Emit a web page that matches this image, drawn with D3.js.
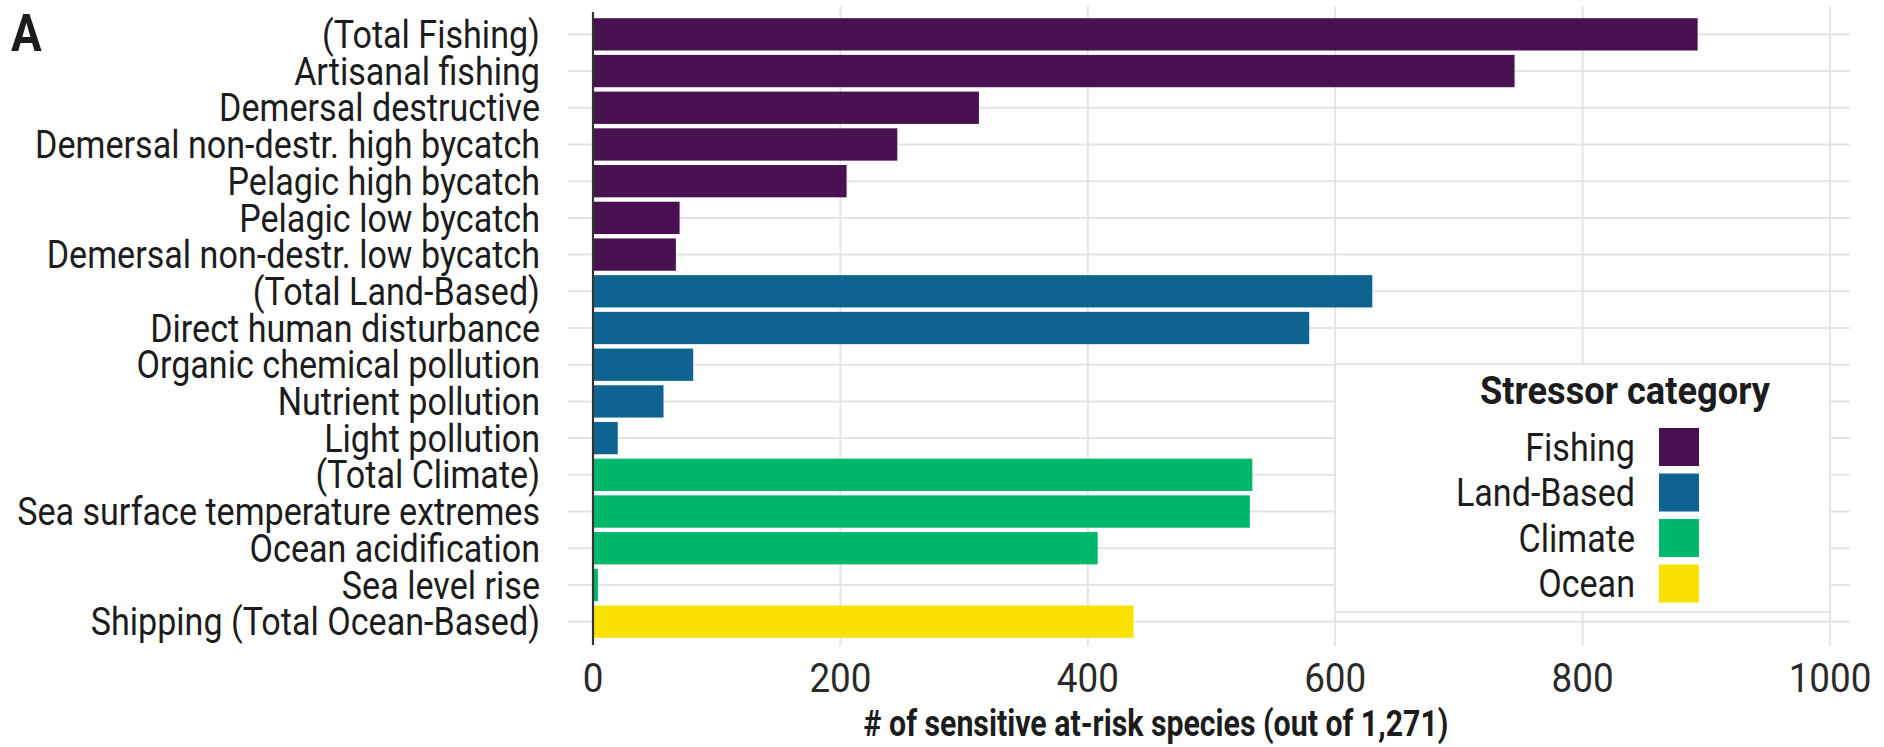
<!DOCTYPE html>
<html>
<head>
<meta charset="utf-8">
<script src="https://cdn.jsdelivr.net/npm/d3@7"></script>
<style>
  html, body { margin: 0; padding: 0; background: #fff; }
  svg { display: block; }
</style>
</head>
<body>
<svg id="chart" width="1884" height="747"></svg>
<script>
// ---------------- DATA ----------------
const categories = [
  "(Total Fishing)",
  "Artisanal fishing",
  "Demersal destructive",
  "Demersal non-destr. high bycatch",
  "Pelagic high bycatch",
  "Pelagic low bycatch",
  "Demersal non-destr. low bycatch",
  "(Total Land-Based)",
  "Direct human disturbance",
  "Organic chemical pollution",
  "Nutrient pollution",
  "Light pollution",
  "(Total Climate)",
  "Sea surface temperature extremes",
  "Ocean acidification",
  "Sea level rise",
  "Shipping (Total Ocean-Based)"
];
const values = [893, 745, 312, 246, 205, 70, 67, 630, 579, 81, 57, 20, 533, 531, 408, 4, 437];
const groups = ["Fishing","Fishing","Fishing","Fishing","Fishing","Fishing","Fishing",
  "Land-Based","Land-Based","Land-Based","Land-Based","Land-Based",
  "Climate","Climate","Climate","Climate","Ocean"];
const legendKeys = ["Fishing", "Land-Based", "Climate", "Ocean"];
const legendColors = ["#4a1152", "#0f6390", "#00b76b", "#f9e200"];
const xTicks = [0, 200, 400, 600, 800, 1000];
const xTitle = "# of sensitive at-risk species (out of 1,271)";
const legendTitle = "Stressor category";
const panelLabel = "A";

// ---------------- LAYOUT ----------------
const svg = d3.select("#chart");
const FONT = "Roboto, 'Liberation Sans', sans-serif";
const textColor = "#1c1c1c";
const gridColor = "#e4e4e4";

const x = d3.scaleLinear().domain([0, 1000]).range([593, 1830]);
const y = d3.scaleBand().domain(categories).range([16, 640]).paddingInner(0.12).paddingOuter(0.06);
const color = d3.scaleOrdinal().domain(legendKeys).range(legendColors);

function measure(str, size, weight) {
  const t = svg.append("text").attr("font-family", FONT).attr("font-size", size)
    .attr("font-weight", weight).text(str);
  const w = t.node().getComputedTextLength();
  t.remove();
  return w;
}
const LABEL_SIZE = 38;
const sx = 523 / measure("Sea surface temperature extremes", LABEL_SIZE, 400);
const sxBold = 585 / measure(xTitle, 37, 700);
const sxLegTitle = 290 / measure(legendTitle, 38, 700);

function condText(g, str, tx, ty, anchor, size, weight, scale) {
  return g.append("text")
    .attr("transform", `translate(${tx},${ty}) scale(${scale},1)`)
    .attr("text-anchor", anchor)
    .attr("dominant-baseline", "central")
    .attr("font-family", FONT)
    .attr("font-size", size)
    .attr("font-weight", weight)
    .attr("fill", textColor)
    .text(str);
}

// ---------------- GRID ----------------
const grid = svg.append("g");
grid.selectAll("line.h").data(categories).join("line")
  .attr("class", "h")
  .attr("x1", 568).attr("x2", 1850)
  .attr("y1", d => y(d) + y.bandwidth() / 2)
  .attr("y2", d => y(d) + y.bandwidth() / 2)
  .attr("stroke", gridColor).attr("stroke-width", 2);
grid.selectAll("line.v").data(xTicks.filter(d => d > 0)).join("line")
  .attr("class", "v")
  .attr("x1", d => x(d)).attr("x2", d => x(d))
  .attr("y1", 6).attr("y2", 646)
  .attr("stroke", gridColor).attr("stroke-width", 2);

// ---------------- BARS ----------------
svg.append("g").selectAll("rect").data(categories).join("rect")
  .attr("x", x(0))
  .attr("y", d => y(d))
  .attr("width", (d, i) => x(values[i]) - x(0))
  .attr("height", y.bandwidth())
  .attr("fill", (d, i) => color(groups[i]));

// y axis line
svg.append("line")
  .attr("x1", x(0)).attr("x2", x(0))
  .attr("y1", 12).attr("y2", 645)
  .attr("stroke", "#333").attr("stroke-width", 2.2);

// ---------------- Y LABELS ----------------
const yl = svg.append("g");
categories.forEach(c => {
  condText(yl, c, 540, y(c) + y.bandwidth() / 2 + 1, "end", LABEL_SIZE, 400, sx);
});

// ---------------- X AXIS ----------------
const xg = svg.append("g");
xTicks.forEach(t => {
  condText(xg, String(t), x(t), 678, "middle", 41, 400, sx).attr("fill", "#2a2a2a");
});
condText(xg, xTitle, 1156, 723, "middle", 37, 700, sxBold);

// ---------------- PANEL LABEL ----------------
condText(svg, panelLabel, 11, 33, "start", 52, 700, 0.88);

// ---------------- LEGEND ----------------
const lg = svg.append("g");
lg.append("rect")
  .attr("x", x(600)).attr("y", 364)
  .attr("width", x(1000) - x(600)).attr("height", 248)
  .attr("fill", "#fff").attr("stroke", gridColor).attr("stroke-width", 2);
condText(lg, legendTitle, 1625, 391, "middle", 38, 700, sxLegTitle);
legendKeys.forEach((k, i) => {
  const cy = 447 + i * 45.5;
  condText(lg, k, 1635, cy + 1, "end", LABEL_SIZE, 400, sx);
  lg.append("rect")
    .attr("x", 1659).attr("y", cy - 19)
    .attr("width", 40).attr("height", 38)
    .attr("fill", color(k));
});
</script>
</body>
</html>
